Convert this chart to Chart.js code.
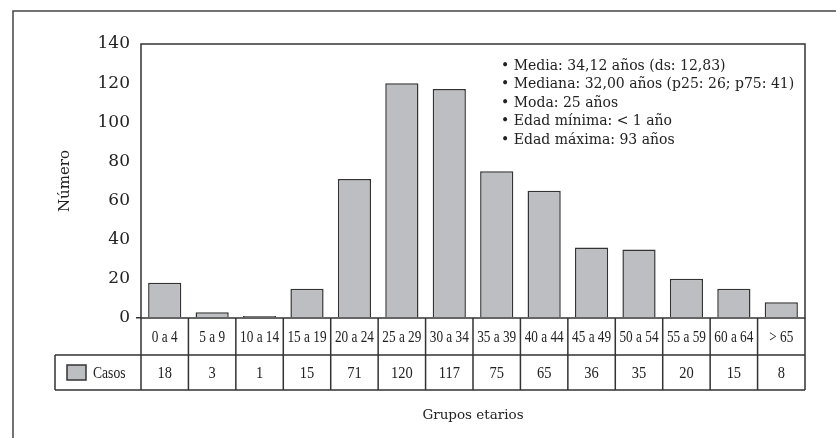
<!DOCTYPE html>
<html>
<head>
<meta charset="utf-8">
<script src="https://cdn.jsdelivr.net/npm/chart.js@4/dist/chart.umd.min.js"></script>
<style>
html,body{margin:0;padding:0;background:#fff;}
#wrap{width:836px;height:438px;position:relative;}
</style>
</head>
<body>
<div id="wrap"><canvas id="c" width="836" height="438"></canvas></div>
<script>
const categories = ['0 a 4','5 a 9','10 a 14','15 a 19','20 a 24','25 a 29','30 a 34','35 a 39','40 a 44','45 a 49','50 a 54','55 a 59','60 a 64','> 65'];
const casos = [18,3,1,15,71,120,117,75,65,36,35,20,15,8];
const seriesName = 'Casos';
const yMin = 0, yMax = 140, yStep = 20;
const notes = [
  '• Media: 34,12 años (ds: 12,83)',
  '• Mediana: 32,00 años (p25: 26; p75: 41)',
  '• Moda: 25 años',
  '• Edad mínima: < 1 año',
  '• Edad máxima: 93 años'
];
const xTitle = 'Grupos etarios';
const yTitle = 'Número';

const INK = '#222';
const LINE = '#333';
const FILL = '#bdbec1';
const SERIF = '"DejaVu Serif", serif';
const TABLE_FONT = '"Liberation Serif", serif';

function condensedText(ctx, text, x, y, align, sx) {
  ctx.save();
  ctx.translate(x, y);
  ctx.scale(sx, 1);
  ctx.textAlign = align;
  ctx.fillText(text, 0, 0);
  ctx.restore();
}

const extras = {
  id: 'extras',
  afterDraw(chart) {
    const ctx = chart.ctx;
    const a = chart.chartArea;
    const xs = chart.scales.x;
    const n = categories.length;
    const cw = (a.right - a.left) / n;
    const row1Top = a.bottom, row1Bot = a.bottom + 37;
    const row2Bot = row1Bot + 35;
    const legLeft = 55;
    ctx.save();
    // outer frame (left and top)
    ctx.strokeStyle = '#444';
    ctx.lineWidth = 1.5;
    ctx.beginPath();
    ctx.moveTo(13, 438); ctx.lineTo(13, 11); ctx.lineTo(836, 11);
    ctx.stroke();
    // plot box
    ctx.strokeStyle = LINE;
    ctx.lineWidth = 1.5;
    ctx.strokeRect(a.left, a.top, a.right - a.left, a.bottom - a.top);
    // table
    ctx.beginPath();
    ctx.moveTo(legLeft, row1Bot); ctx.lineTo(a.right, row1Bot);
    ctx.moveTo(legLeft, row2Bot); ctx.lineTo(a.right, row2Bot);
    ctx.moveTo(legLeft, row1Bot); ctx.lineTo(legLeft, row2Bot);
    for (let i = 0; i <= n; i++) {
      const x = i < n ? xs.getPixelForValue(i) - cw / 2 : xs.getPixelForValue(n - 1) + cw / 2;
      ctx.moveTo(x, row1Top); ctx.lineTo(x, row2Bot);
    }
    ctx.stroke();
    ctx.fillStyle = INK;
    ctx.font = '17px ' + TABLE_FONT;
    ctx.textBaseline = 'middle';
    for (let i = 0; i < n; i++) {
      const cx = xs.getPixelForValue(i);
      condensedText(ctx, categories[i], cx, (row1Top + row1Bot) / 2 + 1, 'center', 0.78);
      condensedText(ctx, String(casos[i]), cx, (row1Bot + row2Bot) / 2 + 1, 'center', 0.85);
    }
    // legend
    ctx.fillStyle = FILL;
    ctx.fillRect(67, 365, 19, 15);
    ctx.strokeStyle = LINE;
    ctx.strokeRect(67, 365, 19, 15);
    ctx.fillStyle = INK;
    condensedText(ctx, seriesName, 93, (row1Bot + row2Bot) / 2 + 1, 'left', 0.8);
    // x title
    ctx.font = '13.5px ' + SERIF;
    ctx.textAlign = 'center';
    ctx.fillText(xTitle, (a.left + a.right) / 2, 415);
    // notes
    ctx.font = '14px ' + SERIF;
    ctx.textAlign = 'left';
    notes.forEach((t, i) => ctx.fillText(t, 501, 66 + i * 18.5));
    ctx.restore();
  }
};

new Chart(document.getElementById('c'), {
  type: 'bar',
  data: {
    labels: categories,
    datasets: [{
      label: seriesName,
      data: casos,
      backgroundColor: FILL,
      borderColor: LINE,
      borderWidth: 1.5,
      barPercentage: 0.7,
      categoryPercentage: 1.0
    }]
  },
  options: {
    responsive: false,
    animation: false,
    layout: { padding: { left: 0, top: 44, right: 31, bottom: 120 } },
    plugins: { legend: { display: false }, tooltip: { enabled: false } },
    scales: {
      x: { display: false },
      y: {
        min: yMin, max: yMax,
        ticks: { stepSize: yStep, color: INK, font: { family: SERIF, size: 17 }, padding: 6 },
        grid: {
          drawOnChartArea: false,
          tickLength: 5,
          tickColor: (c) => (c.tick && c.tick.value === 0 ? LINE : 'rgba(0,0,0,0)'),
          lineWidth: 1.5
        },
        border: { display: false },
        title: { display: true, text: yTitle, color: INK, font: { family: SERIF, size: 15 }, padding: { top: 56, bottom: 0 } },
        afterFit(scale) { scale.width = 141; }
      }
    }
  },
  plugins: [extras]
});
</script>
</body>
</html>
